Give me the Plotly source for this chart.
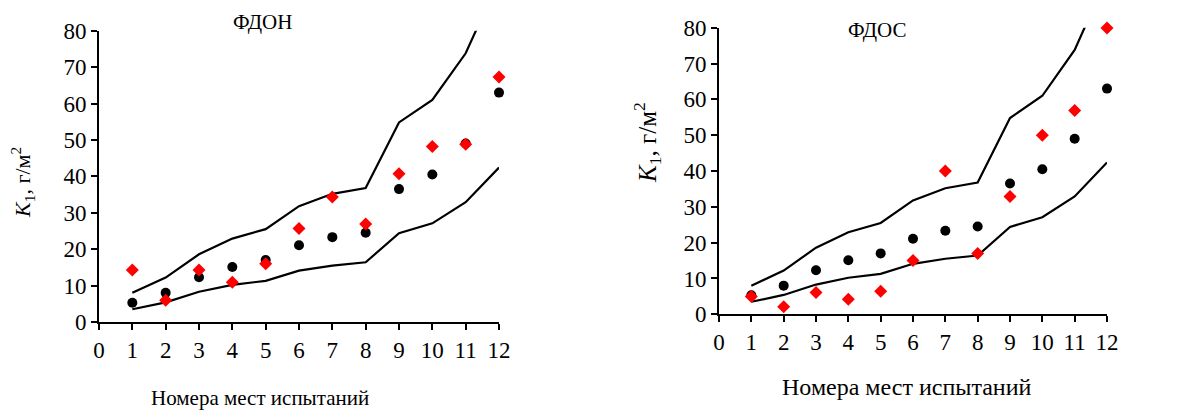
import plotly.graph_objects as go

x = list(range(1, 13))
upper = [8.0, 12.2, 18.6, 22.9, 25.5, 31.8, 35.2, 36.8, 54.8, 61.0, 73.8, 94.0]
lower = [3.5, 5.4, 8.3, 10.2, 11.3, 14.1, 15.5, 16.4, 24.4, 27.1, 32.9, 42.4]
mean_k = [5.3, 8.0, 12.3, 15.1, 17.0, 21.1, 23.3, 24.5, 36.5, 40.5, 49.0, 63.0]
fdon = [14.3, 6.0, 14.3, 10.9, 16.0, 25.7, 34.3, 26.9, 40.7, 48.2, 48.8, 67.3]
fdos = [5.0, 2.1, 6.1, 4.2, 6.4, 15.0, 40.0, 17.0, 32.9, 50.0, 56.9, 79.9]
x_ticks = list(range(0, 13))
y_ticks = list(range(0, 90, 10))

# page body has an 8px default margin; the figure is sized/placed to compensate
OFF = 8
W, H = 1183 - OFF, 411 - OFF
FONT = "Liberation Serif"


def fx(px):
    return (px - OFF) / W


def fy(py):
    return 1 - (py - OFF) / H


fig = go.Figure()

panels = [
    dict(xa="x", ya="y", red=fdon, title="ФДОН",
         px=(99, 499), py=(30.7, 322), tx=262, ty=22, xt=(260, 398), yt=(22, 183),
         fs_t=21, fs_x=21, fs_y=22),
    dict(xa="x2", ya="y2", red=fdos, title="ФДОС",
         px=(719, 1107), py=(27.7, 314.3), tx=877, ty=30, xt=(907, 387), yt=(647, 143),
         fs_t=21, fs_x=24, fs_y=25),
]

for p in panels:
    for band in (upper, lower):
        fig.add_trace(go.Scatter(x=x, y=band, mode="lines", xaxis=p["xa"], yaxis=p["ya"],
                                 line=dict(color="black", width=2.2), showlegend=False,
                                 hoverinfo="skip"))
    fig.add_trace(go.Scatter(x=x, y=mean_k, mode="markers", xaxis=p["xa"], yaxis=p["ya"],
                             marker=dict(color="black", size=10, symbol="circle"),
                             cliponaxis=False, showlegend=False))
    fig.add_trace(go.Scatter(x=x, y=p["red"], mode="markers", xaxis=p["xa"], yaxis=p["ya"],
                             marker=dict(color="#ff0000", size=10, symbol="diamond"),
                             cliponaxis=False, showlegend=False))

axis_common = dict(
    showgrid=False, zeroline=False, showline=True, linecolor="black", linewidth=2,
    ticks="outside", ticklen=6, tickwidth=2, tickcolor="black", automargin=False,
    tickfont=dict(family=FONT, size=23, color="black"),
)

layout = dict(
    width=W, height=H, margin=dict(l=0, r=0, t=0, b=0),
    paper_bgcolor="white", plot_bgcolor="white", showlegend=False,
    font=dict(family=FONT, color="black"),
)

annotations = []
for i, p in enumerate(panels):
    sfx = "" if i == 0 else "2"
    layout["xaxis" + sfx] = dict(axis_common, domain=[fx(p["px"][0]), fx(p["px"][1])],
                                 range=[0, 12], tickvals=x_ticks, anchor="y" + sfx)
    layout["yaxis" + sfx] = dict(axis_common, domain=[fy(p["py"][1]), fy(p["py"][0])],
                                 range=[0, 80], tickvals=y_ticks, anchor="x" + sfx)
    annotations.append(dict(text=p["title"], x=fx(p["tx"]), y=fy(p["ty"]), xref="paper", yref="paper",
                            showarrow=False, font=dict(family=FONT, size=p["fs_t"], color="black"),
                            xanchor="center", yanchor="middle"))
    annotations.append(dict(text="Номера мест испытаний", x=fx(p["xt"][0]), y=fy(p["xt"][1]),
                            xref="paper", yref="paper", showarrow=False,
                            font=dict(family=FONT, size=p["fs_x"], color="black"),
                            xanchor="center", yanchor="middle"))
    annotations.append(dict(text="<i>K</i><sub>1</sub>, г/м<sup>2</sup>", x=fx(p["yt"][0]),
                            y=fy(p["yt"][1]), xref="paper", yref="paper", showarrow=False,
                            textangle=-90, font=dict(family=FONT, size=p["fs_y"], color="black"),
                            xanchor="center", yanchor="middle"))
layout["annotations"] = annotations
fig.update_layout(**layout)
fig.write_html("out.html")
